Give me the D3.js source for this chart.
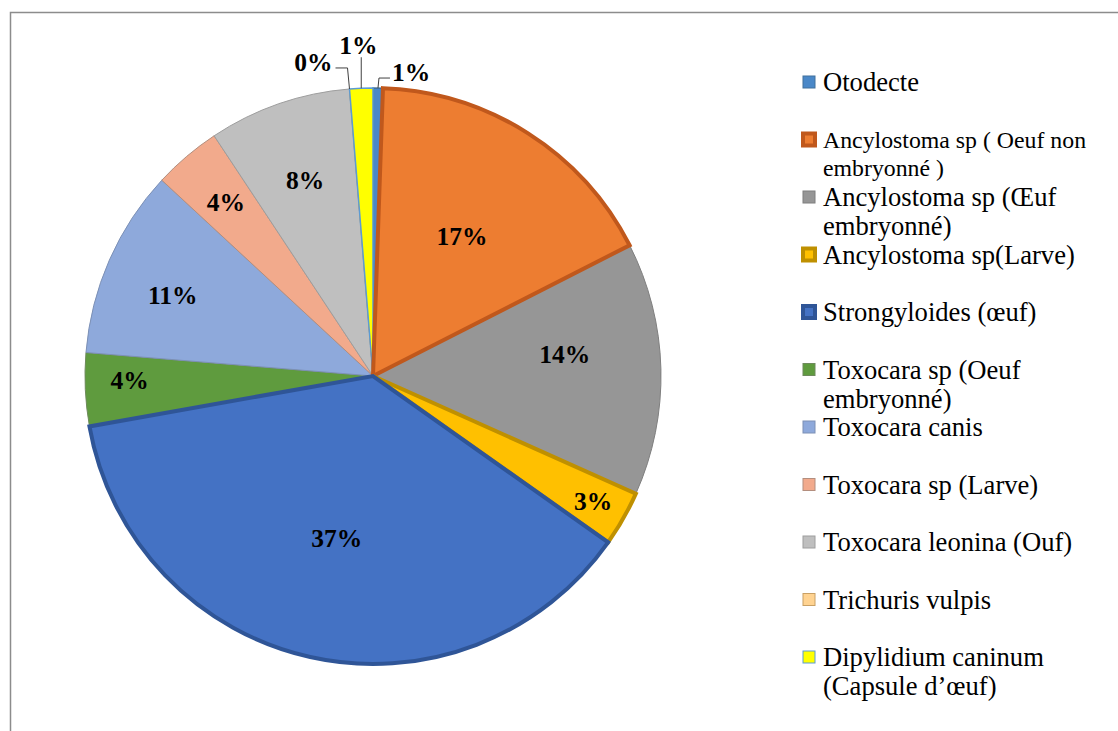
<!DOCTYPE html>
<html>
<head>
<meta charset="utf-8">
<script src="https://cdn.jsdelivr.net/npm/d3@7"></script>
<style>
  html, body { margin: 0; padding: 0; background: #fff; }
  svg { display: block; }
</style>
</head>
<body>
<svg id="chart" width="1118" height="731"></svg>
<script>
// ---- data ----
const categories = [
  "Otodecte",
  "Ancylostoma sp ( Oeuf non embryonné )",
  "Ancylostoma sp (Œuf embryonné)",
  "Ancylostoma sp(Larve)",
  "Strongyloides (œuf)",
  "Toxocara sp (Oeuf embryonné)",
  "Toxocara canis",
  "Toxocara sp (Larve)",
  "Toxocara leonina (Ouf)",
  "Trichuris vulpis",
  "Dipylidium caninum (Capsule d’œuf)"
];
const values = [0.55, 16.95, 14.2, 3.1, 37.4, 4.1, 10.6, 3.8, 8.0, 0, 1.3];

// ---- styles ----
const fills   = ["#4A88C8", "#ED7D31", "#969696", "#FFC000", "#4472C4", "#5F9B3E", "#8EA9DB", "#F2AA8C", "#BFBFBF", "#FFD391", "#FFFF00"];
const strokes = ["#41719C", "#C0581C", "#7F7F7F", "#BF9000", "#2F5597", "#6E8A5C", "#7C90B5", "#B38E7E", "#9E9E9E", "#C9A064", "#5B9BD5"];
const strokeW = [1.5, 4, 1, 4, 4, 1, 1, 1, 1, 1, 1.5];
// label placement: radius fraction (null => outside with leader), angle shift (deg)
const labelR     = [null, 0.575, 0.67, 0.88, 0.576, 0.845, 0.75, 0.79, 0.72, null, null];
const labelShift = [0, 0, -5, 0, 0, 1.7, -1.8, 0, 0, 0, 0];

const svg = d3.select("#chart");
const cx = 373, cy = 376, R = 288;
const serif = "'Liberation Serif', 'Times New Roman', serif";

// outer frame
svg.append("rect").attr("x", 10.5).attr("y", 12.5).attr("width", 1400).attr("height", 900)
  .attr("fill", "none").attr("stroke", "#8c8c8c").attr("stroke-width", 1.5);

const total = d3.sum(values);
const pie = d3.pie().sort(null).value(d => d)(values);
const arc = d3.arc().innerRadius(0).outerRadius(R);

const g = svg.append("g").attr("transform", `translate(${cx},${cy})`);
const order = d3.range(values.length).sort((a, b) => (strokeW[a] > 2) - (strokeW[b] > 2));
g.selectAll("path.slice").data(order.map(i => pie[i])).join("path")
  .attr("class", "slice")
  .attr("d", arc)
  .attr("fill", d => fills[d.index])
  .attr("stroke", d => strokes[d.index])
  .attr("stroke-width", d => strokeW[d.index])
  .attr("stroke-linejoin", "miter");

const pct = v => Math.round(v / total * 100) + "%";
const polar = (ang, r) => [r * Math.sin(ang), -r * Math.cos(ang)];

// inside labels
pie.forEach((d, i) => {
  if (labelR[i] == null) return;
  const a = (d.startAngle + d.endAngle) / 2 + labelShift[i] * Math.PI / 180;
  const [x, y] = polar(a, R * labelR[i]);
  g.append("text").attr("x", x).attr("y", y).attr("dy", "0.35em")
    .attr("text-anchor", "middle")
    .style("font-family", serif).style("font-weight", "bold").style("font-size", "25.5px")
    .attr("fill", "#000").text(pct(values[i]));
});

// outside labels with leader lines
const outside = [
  { i: 0, elbow: [1, -10], end: [12, -10], anchor: "start", tdx: 2, tdy: -6 },
  { i: 10, elbow: [0, -31], end: [0, -31], anchor: "middle", tdx: -3, tdy: -12 },
  { i: 9, elbow: [-2, -21], end: [-14, -21], anchor: "end", tdx: -3, tdy: -6 }
];
outside.forEach(o => {
  const d = pie[o.i];
  const a = (d.startAngle + d.endAngle) / 2;
  const [x0, y0] = polar(a, R);
  const x1 = x0 + o.elbow[0], y1 = y0 + o.elbow[1];
  const x2 = x0 + o.end[0], y2 = y0 + o.end[1];
  g.append("path").attr("d", d3.line()([[x0, y0], [x1, y1], [x2, y2]]))
    .attr("fill", "none").attr("stroke", "#404040").attr("stroke-width", 1);
  g.append("text").attr("x", x2 + o.tdx).attr("y", y2 + o.tdy).attr("dy", "0.35em")
    .attr("text-anchor", o.anchor)
    .style("font-family", serif).style("font-weight", "bold").style("font-size", "25.5px")
    .attr("fill", "#000").text(pct(values[o.i]));
});

// legend
const legX = 809, legTextX = 823, legY0 = 82, legStep = 57.5, lineH = 29, maxW = 285;
const leg = svg.append("g");
categories.forEach((name, i) => {
  const yc = legY0 + i * legStep;
  const fs = i === 1 ? 23.8 : 26.6;
  const s = 12;
  leg.append("rect").attr("x", legX - s / 2).attr("y", yc - s / 2).attr("width", s).attr("height", s)
    .attr("fill", fills[i]).attr("stroke", strokes[i]).attr("stroke-width", strokeW[i] > 2 ? 4 : 1);
  const t = leg.append("text").attr("x", legTextX).attr("y", yc)
    .style("font-family", serif).style("font-size", fs + "px").attr("fill", "#000");
  const words = name.split(" ");
  let line = [], lineNo = 0;
  let ts = t.append("tspan").attr("x", legTextX).attr("y", yc).attr("dy", "0.35em");
  words.forEach(w => {
    line.push(w);
    ts.text(line.join(" "));
    if (ts.node().getComputedTextLength() > maxW && line.length > 1) {
      line.pop();
      ts.text(line.join(" "));
      line = [w];
      lineNo++;
      ts = t.append("tspan").attr("x", legTextX).attr("y", yc + lineNo * (i === 1 ? 28 : lineH)).attr("dy", "0.35em").text(w);
    }
  });
});
</script>
</body>
</html>
